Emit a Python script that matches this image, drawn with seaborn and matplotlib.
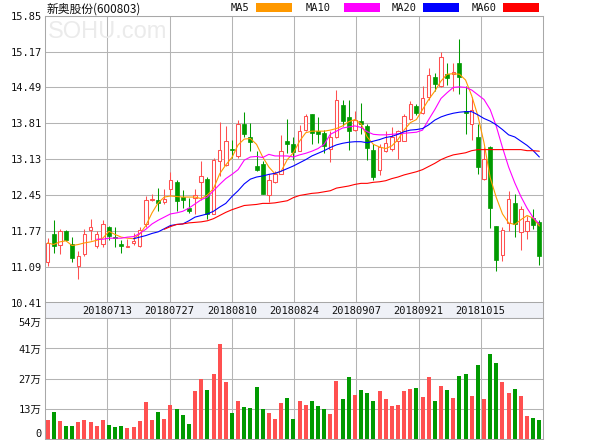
import numpy as np
import pandas as pd
import matplotlib
matplotlib.use("Agg")
import matplotlib.pyplot as plt
from matplotlib.patches import Rectangle
import seaborn as sns

# ---------------- data ----------------
title = "新奥股份(600803)"
date_labels = ["20180713", "20180727", "20180810", "20180824",
               "20180907", "20180921", "20181015"]
price_ticks = [10.41, 11.09, 11.77, 12.45, 13.13, 13.81, 14.49, 15.17, 15.85]
vol_ticks = [0, 13.5, 27, 40.5, 54]
vol_tick_labels = ["0", "13万", "27万", "41万", "54万"]
ma_names = ["MA5", "MA10", "MA20", "MA60"]
ma_colors = ["#ff9900", "#ff00ff", "#0000ff", "#ff0000"]

open_ = [11.17, 11.70, 11.51, 11.77, 11.52, 11.11, 11.33, 11.78, 11.49, 11.52,
         11.85, 11.66, 11.52, 11.47, 11.54, 11.49, 11.89, 12.36, 12.35, 12.32,
         12.57, 12.69, 12.41, 12.20, 12.39, 12.69, 12.75, 12.09, 13.09, 13.02,
         13.33, 13.18, 13.79, 13.55, 13.00, 13.04, 12.45, 12.69, 12.85, 13.47,
         13.41, 13.29, 13.68, 13.98, 13.66, 13.62, 13.33, 13.54, 14.16, 13.93,
         13.68, 13.85, 13.76, 13.31, 12.93, 13.29, 13.33, 13.47, 13.48, 13.90,
         14.14, 14.01, 14.30, 14.69, 14.52, 14.75, 14.74, 14.95, 14.04, 13.79,
         13.55, 12.76, 13.36, 11.86, 11.31, 11.91, 12.29, 11.75, 11.76, 12.01,
         11.93]
high = [11.63, 11.97, 11.81, 11.79, 11.65, 11.39, 11.80, 11.99, 11.77, 11.98,
        11.87, 11.84, 11.60, 11.61, 11.73, 11.84, 12.43, 12.47, 12.59, 12.57,
        12.88, 12.74, 12.55, 12.39, 12.57, 13.09, 12.79, 13.16, 13.84, 13.76,
        13.49, 13.87, 14.03, 13.82, 13.28, 13.09, 12.84, 12.90, 13.59, 13.90,
        13.55, 13.78, 13.98, 13.99, 13.93, 13.69, 13.66, 14.44, 14.26, 14.26,
        14.04, 14.20, 13.79, 13.41, 13.41, 13.66, 13.73, 13.69, 13.99, 14.23,
        14.17, 14.52, 14.85, 14.77, 15.17, 14.95, 14.95, 15.41, 14.52, 14.30,
        13.79, 13.36, 13.38, 11.86, 11.84, 12.52, 12.46, 12.24, 12.05, 12.19,
        11.97]
low = [11.10, 11.35, 11.33, 11.58, 11.18, 10.85, 11.30, 11.59, 11.44, 11.46,
       11.60, 11.47, 11.35, 11.47, 11.51, 11.47, 11.85, 12.34, 12.14, 12.27,
       12.43, 12.15, 12.20, 12.11, 12.08, 12.36, 11.99, 12.09, 12.81, 13.00,
       13.16, 13.16, 13.54, 13.28, 12.90, 12.46, 12.32, 12.68, 12.84, 13.25,
       13.12, 13.28, 13.66, 13.42, 13.44, 13.25, 13.08, 13.53, 13.76, 13.31,
       13.66, 13.60, 13.12, 12.74, 12.83, 13.27, 13.28, 13.14, 13.47, 13.87,
       13.97, 13.99, 14.26, 14.42, 14.50, 14.54, 14.42, 14.36, 13.60, 13.50,
       12.85, 12.74, 11.82, 11.00, 11.20, 11.77, 11.66, 11.41, 11.62, 11.81,
       11.12]
close = [11.54, 11.49, 11.76, 11.59, 11.25, 11.30, 11.71, 11.85, 11.71, 11.89,
         11.68, 11.63, 11.49, 11.49, 11.58, 11.79, 12.36, 12.38, 12.30, 12.38,
         12.74, 12.33, 12.36, 12.15, 12.45, 12.80, 12.09, 13.12, 13.30, 13.47,
         13.31, 13.79, 13.61, 13.46, 12.92, 12.47, 12.74, 12.85, 13.28, 13.41,
         13.27, 13.66, 13.94, 13.62, 13.61, 13.38, 13.55, 14.25, 13.85, 13.66,
         13.88, 13.80, 13.35, 12.79, 13.36, 13.43, 13.54, 13.66, 13.95, 14.17,
         14.01, 14.28, 14.73, 14.56, 15.07, 14.66, 14.78, 14.69, 14.00, 14.07,
         12.98, 13.14, 12.20, 11.22, 11.79, 12.38, 11.90, 12.19, 11.95, 11.88,
         11.29]
# volume in 万 (10k shares)
volume = [8.7, 12.3, 8.25, 6.0, 6.0, 7.8, 8.7, 7.8, 6.0, 8.7,
          6.45, 5.55, 6.0, 5.1, 5.55, 8.25, 16.35, 8.7, 12.3, 9.15,
          15.0, 13.2, 10.95, 6.9, 21.3, 26.7, 21.75, 28.95, 42.45, 25.35,
          11.85, 16.8, 14.1, 13.65, 23.1, 13.2, 11.85, 9.15, 15.9, 18.15,
          9.15, 16.8, 15.0, 16.8, 14.55, 13.2, 11.4, 25.8, 17.7, 27.6,
          19.5, 21.75, 20.4, 16.8, 21.3, 17.7, 14.55, 15.0, 21.3, 22.2,
          22.65, 18.6, 27.6, 16.8, 23.55, 21.75, 18.15, 28.05, 28.95, 19.05,
          33.0, 17.7, 37.95, 33.9, 25.35, 20.4, 22.2, 19.05, 10.5, 9.6,
          8.7]

nan = np.nan
ma5 = [11.54, 11.51, 11.56, 11.58, 11.49, 11.51, 11.54, 11.56, 11.59, 11.63,
       11.76, 11.70, 11.65, 11.63, 11.62, 11.71, 11.87, 12.11, 12.30, 12.41,
       12.43, 12.42, 12.41, 12.41, 12.41, 12.38, 12.45, 12.57, 12.85, 13.02,
       13.16, 13.40, 13.51, 13.52, 13.41, 13.17, 12.98, 12.85, 12.90, 13.12,
       13.25, 13.47, 13.63, 13.66, 13.66, 13.66, 13.68, 13.71, 13.76, 13.84,
       13.88, 13.80, 13.55, 13.41, 13.36, 13.33, 13.38, 13.50, 13.68, 13.82,
       13.88, 14.07, 14.26, 14.42, 14.61, 14.74, 14.75, 14.74, 14.63, 14.33,
       13.95, 13.44, 12.78, 12.40, 12.09, 11.92, 11.89, 11.98, 12.06, 12.01,
       11.86]
ma10 = [nan, nan, nan, nan, nan, nan, nan, nan, 11.61, 11.61,
        11.63, 11.63, 11.63, 11.65, 11.66, 11.72, 11.80, 11.90, 11.97, 12.03,
        12.09, 12.11, 12.14, 12.20, 12.28, 12.36, 12.41, 12.53, 12.65, 12.76,
        12.84, 12.93, 13.11, 13.17, 13.18, 13.16, 13.22, 13.19, 13.19, 13.19,
        13.17, 13.21, 13.24, 13.28, 13.33, 13.41, 13.60, 13.66, 13.72, 13.74,
        13.76, 13.73, 13.65, 13.60, 13.59, 13.59, 13.60, 13.61, 13.62, 13.63,
        13.64, 13.68, 13.88, 14.07, 14.28, 14.39, 14.49, 14.50, 14.49, 14.44,
        14.35, 14.26, 14.07, 13.75, 13.35, 12.98, 12.68, 12.42, 12.20, 12.02,
        11.90]
ma20 = [nan, nan, nan, nan, nan, nan, nan, nan, nan, nan,
        nan, nan, nan, nan, 11.62, 11.65, 11.68, 11.72, 11.75, 11.81,
        11.87, 11.89, 11.90, 11.96, 12.03, 12.06, 12.09, 12.14, 12.22, 12.29,
        12.42, 12.53, 12.66, 12.75, 12.79, 12.81, 12.84, 12.86, 12.90, 12.95,
        13.00, 13.06, 13.12, 13.19, 13.24, 13.29, 13.35, 13.40, 13.43, 13.45,
        13.46, 13.46, 13.44, 13.47, 13.50, 13.54, 13.56, 13.60, 13.65, 13.68,
        13.69, 13.71, 13.78, 13.87, 13.93, 13.97, 14.00, 14.02, 14.03, 14.03,
        13.97, 13.90, 13.85, 13.78, 13.69, 13.59, 13.55, 13.47, 13.39, 13.29,
        13.17]
ma60 = [nan, nan, nan, nan, nan, nan, nan, nan, nan, nan,
        nan, nan, nan, nan, nan, nan, nan, nan, nan, 11.80,
        11.85, 11.89, 11.90, 11.92, 11.93, 11.94, 11.96, 12.00, 12.06, 12.12,
        12.17, 12.21, 12.25, 12.26, 12.27, 12.29, 12.29, 12.30, 12.32, 12.34,
        12.40, 12.44, 12.46, 12.48, 12.49, 12.51, 12.53, 12.58, 12.60, 12.62,
        12.65, 12.67, 12.67, 12.69, 12.70, 12.72, 12.76, 12.79, 12.83, 12.86,
        12.89, 12.93, 12.99, 13.05, 13.12, 13.17, 13.21, 13.23, 13.25, 13.29,
        13.31, 13.31, 13.31, 13.31, 13.31, 13.31, 13.31, 13.31, 13.29, 13.29,
        13.28]

# ---------------- style ----------------
RED = "#ff5050"
GREEN = "#009a00"
GRID = "#b4b4b4"
FRAME = "#a8a8a8"
MONO = ["DejaVu Sans Mono", "Noto Sans CJK SC"]

sns.set_theme(style="white")
plt.rcParams["font.family"] = MONO
plt.rcParams["axes.linewidth"] = 0.75

W, H = 600, 440
fig = plt.figure(figsize=(W / 100, H / 100), dpi=100)


def fx(px):
    return px / W


def fy(py):
    return 1 - py / H


ax = fig.add_axes([fx(45), fy(302.5), fx(498), (302.5 - 15.7) / H])
axb = fig.add_axes([fx(45), fy(318.3), fx(498), (318.3 - 302.5) / H])
axv = fig.add_axes([fx(45), fy(439), fx(498), (439 - 318.3) / H])

n = len(close)
idx = np.arange(n)
o = np.array(open_); c = np.array(close); hi = np.array(high); lo = np.array(low)
up = c >= o
XL = (-0.407, n - 0.407)
gx = [XL[0] + (XL[1] - XL[0]) * k / 8 for k in range(1, 8)]

for a in (ax, axb, axv):
    a.set_xlim(*XL)
    for s in a.spines.values():
        s.set_color(FRAME)
        s.set_linewidth(0.75)

# ---- price panel ----
ax.set_ylim(price_ticks[0], price_ticks[-1])
for y in price_ticks:
    ax.axhline(y, color=GRID, lw=0.75, zorder=0)
for x in gx:
    ax.axvline(x, color=GRID, lw=0.75, zorder=0)

bw_up, bw_dn = 0.56, 0.64
# wicks
ax.vlines(idx[~up], lo[~up], hi[~up], color=GREEN, lw=0.75, zorder=2)
ax.vlines(idx[up], lo[up], o[up], color=RED, lw=0.75, zorder=2)
ax.vlines(idx[up], c[up], hi[up], color=RED, lw=0.75, zorder=2)
for i in range(n):
    if up[i]:
        ax.add_patch(Rectangle((i - bw_up / 2, o[i]), bw_up, max(c[i] - o[i], 0.005),
                               facecolor="white", edgecolor=RED, lw=0.75, zorder=2.5))
    else:
        ax.add_patch(Rectangle((i - bw_dn / 2, c[i]), bw_dn, max(o[i] - c[i], 0.01),
                               facecolor=GREEN, edgecolor=GREEN, lw=0.5, zorder=2.5))

for ma, col in zip([ma5, ma10, ma20, ma60], ma_colors):
    arr = np.array(ma, dtype=float)
    m = ~np.isnan(arr)
    sns.lineplot(x=idx[m], y=arr[m], color=col, lw=0.8, ax=ax,
                 estimator=None, sort=False, legend=False, zorder=3)

ax.set_yticks(price_ticks)
ax.set_yticklabels([f"{v:.2f}" for v in price_ticks])
ax.set_xticks([])
ax.tick_params(axis="y", length=0, pad=2.5, labelsize=7.5, colors="#111111")
ax.set_xlabel(""); ax.set_ylabel("")

# ---- date band ----
axb.set_facecolor("#eff1f7")
axb.set_xticks([]); axb.set_yticks([])
axb.set_ylim(0, 1)
for x, lab in zip(gx, date_labels):
    axb.text(x, 0.45, lab, ha="center", va="center", fontsize=7.5, color="#111111")

# ---- volume panel ----
df = pd.DataFrame({"idx": idx, "vol": volume,
                   "dir": np.where(up, "up", "down")})
sns.barplot(data=df, x="idx", y="vol", hue="dir",
            palette={"up": RED, "down": GREEN}, native_scale=True,
            dodge=False, width=0.65, saturation=1, errorbar=None,
            legend=False, ax=axv, linewidth=0, zorder=2)
axv.set_xlim(*XL)
axv.set_ylim(vol_ticks[0], vol_ticks[-1])
for y in vol_ticks[1:-1]:
    axv.axhline(y, color=GRID, lw=0.75, zorder=0)
for x in gx:
    axv.axvline(x, color=GRID, lw=0.75, zorder=0)
axv.set_yticks(vol_ticks)
axv.set_yticklabels(vol_tick_labels)
axv.set_xticks([])
axv.set_xlabel(""); axv.set_ylabel("")
axv.tick_params(axis="y", length=0, pad=2.5, labelsize=7.5, colors="#111111")
for lbl in axv.get_yticklabels():
    if lbl.get_text() == "0":
        lbl.set_va("bottom")
    elif lbl.get_text() == vol_tick_labels[-1]:
        lbl.set_va("top")

# ---- header: title, watermark, legend ----
fig.text(fx(46.5), fy(8.6), title, ha="left", va="center", fontsize=8.5,
         family=["Noto Sans CJK SC", "DejaVu Sans"], color="#111111")
fig.text(fx(48), fy(32), "SOHU.com", ha="left", va="center", fontsize=17,
         family=["Liberation Sans"], color="#ebebeb", zorder=0)

leg_text_x = [231, 306, 392, 472]
leg_rect_x = [256, 344, 423, 503]
for name, col, tx, rx in zip(ma_names, ma_colors, leg_text_x, leg_rect_x):
    fig.text(fx(tx), fy(7.8), name, ha="left", va="center", fontsize=7.5,
             color="#111111")
    fig.patches.append(Rectangle((fx(rx), fy(11.7)), fx(36), 9 / H,
                                 transform=fig.transFigure, facecolor=col,
                                 edgecolor="none"))

fig.savefig("out.png", dpi=100)
